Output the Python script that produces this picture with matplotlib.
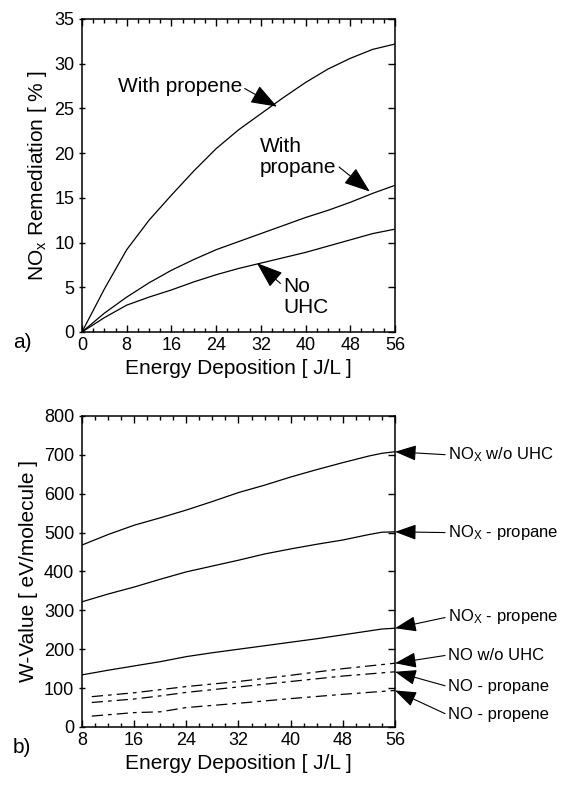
import numpy as np
import matplotlib
matplotlib.use('Agg')
import matplotlib.pyplot as plt
from matplotlib.ticker import MultipleLocator

plt.rcParams['font.family'] = ['Liberation Sans', 'DejaVu Sans']
plt.rcParams['mathtext.fontset'] = 'custom'
plt.rcParams['mathtext.rm'] = 'Liberation Sans'
plt.rcParams['mathtext.it'] = 'Liberation Sans'

# panel a) NOx remediation vs energy deposition
energy_a = [0, 4, 8, 12, 16, 20, 24, 28, 32, 36, 40, 44, 48, 52, 56]
rem_propene = [0, 4.8, 9.2, 12.5, 15.3, 18.0, 20.5, 22.6, 24.4, 26.2, 27.9, 29.4, 30.6, 31.6, 32.2]
rem_propane = [0, 2.1, 3.9, 5.5, 6.9, 8.1, 9.2, 10.1, 11.0, 11.9, 12.8, 13.6, 14.5, 15.5, 16.4]
rem_nouhc = [0, 1.6, 3.0, 3.9, 4.7, 5.6, 6.4, 7.1, 7.7, 8.3, 8.9, 9.6, 10.3, 11.0, 11.5]

# panel b) W-values
energy_b = [8, 12, 16, 20, 24, 28, 32, 36, 40, 44, 48, 52, 54, 56]
w_nox_nouhc = [468, 495, 519, 538, 558, 580, 603, 622, 643, 662, 680, 697, 704, 708]
w_nox_propane = [322, 342, 360, 380, 399, 414, 429, 445, 458, 470, 481, 495, 501, 502]
w_nox_propene = [134, 146, 157, 168, 181, 191, 200, 209, 218, 227, 237, 247, 252, 254]

energy_no = [9.5, 16, 20, 24, 32, 40, 48, 56]
w_no_nouhc = [78, 88, 96, 104, 117, 133, 150, 164]
w_no_propane = [63, 72, 80, 89, 103, 117, 131, 142]
w_no_propene = [28, 37, 39, 50, 61, 73, 84, 94]

fig = plt.figure(figsize=(5.65, 7.85), dpi=100)
ax1 = fig.add_axes([0.1451, 0.5771, 0.554, 0.3987])
ax2 = fig.add_axes([0.1451, 0.0739, 0.554, 0.3962])

lw = 0.9
ax1.plot(energy_a, rem_propene, 'k-', lw=lw)
ax1.plot(energy_a, rem_propane, 'k-', lw=lw)
ax1.plot(energy_a, rem_nouhc, 'k-', lw=lw)

ax2.plot(energy_b, w_nox_nouhc, 'k-', lw=lw)
ax2.plot(energy_b, w_nox_propane, 'k-', lw=lw)
ax2.plot(energy_b, w_nox_propene, 'k-', lw=lw)
dd = (9, 4, 3, 4)
ax2.plot(energy_no, w_no_nouhc, 'k-', lw=lw, dashes=dd)
ax2.plot(energy_no, w_no_propane, 'k-', lw=lw, dashes=dd)
ax2.plot(energy_no, w_no_propene, 'k-', lw=lw, dashes=dd)

for ax in (ax1, ax2):
    for s in ax.spines.values():
        s.set_linewidth(1.1)
    ax.tick_params(axis='both', which='both', labelsize=13, color='k')
    ax.tick_params(axis='x', which='major', direction='in', top=True, length=5, width=1)
    ax.tick_params(axis='x', which='minor', direction='in', top=True, length=3, width=1)
    ax.tick_params(axis='y', which='major', direction='inout', left=True, right=False, length=4, width=1)
    ax.xaxis.set_major_locator(MultipleLocator(8))
    ax.xaxis.set_minor_locator(MultipleLocator(2))
    ax.set_xlabel('Energy Deposition [ J/L ]', fontsize=15, labelpad=4)

ax1.set_xlim(0, 56)
ax1.set_ylim(0, 35)
ax1.yaxis.set_major_locator(MultipleLocator(5))
ax1.set_ylabel('NO$_\\mathrm{x}$ Remediation [ % ]', fontsize=15, labelpad=4)

ax2.set_xlim(8, 56)
ax2.set_ylim(0, 800)
ax2.yaxis.set_major_locator(MultipleLocator(100))
ax2.set_ylabel('W-Value [ eV/molecule ]', fontsize=15, labelpad=4)

# right-side inward ticks without labels
for ax, step in ((ax1, 5), (ax2, 100)):
    lo, hi = ax.get_ylim()
    sec = ax.secondary_yaxis('right')
    sec.set_yticks(np.arange(lo, hi + step / 2, step))
    sec.tick_params(direction='in', length=5, width=1, labelright=False)
    sec.spines['right'].set_visible(False)

arrow = dict(arrowstyle='-|>,head_length=1.1,head_width=0.4', color='k', lw=0.8,
             shrinkA=0, shrinkB=0)

ax1.annotate('With propene', xy=(34.9, 25.2), xytext=(17.5, 27.4), fontsize=15,
             ha='center', va='center', arrowprops=dict(arrow, relpos=(1, 0.5)))
ax1.annotate('With\npropane', xy=(51.5, 15.7), xytext=(31.8, 19.6), fontsize=15,
             ha='left', va='center', linespacing=1.15,
             arrowprops=dict(arrow, relpos=(1, 0.3)))
ax1.annotate('No\nUHC', xy=(31.3, 7.7), xytext=(36.0, 3.9), fontsize=15,
             ha='left', va='center', linespacing=1.15,
             arrowprops=dict(arrow, relpos=(0, 0.78)))

right_labels = ['NO$_\\mathrm{X}$ w/o UHC', 'NO$_\\mathrm{X}$ - propane', 'NO$_\\mathrm{X}$ - propene',
                'NO w/o UHC', 'NO - propane', 'NO - propene']
label_y = [700, 500, 283, 185, 104, 31]
tip_y = [w_nox_nouhc[-1], w_nox_propane[-1], w_nox_propene[-1],
         w_no_nouhc[-1], w_no_propane[-1], w_no_propene[-1]]
for lab, ly, ty in zip(right_labels, label_y, tip_y):
    ax2.annotate(lab, xy=(56, ty), xytext=(64.1, ly), fontsize=12,
                 ha='left', va='center', annotation_clip=False,
                 arrowprops=dict(arrow, relpos=(0, 0.5)))

fig.text(0.023, 0.564, 'a)', fontsize=15, va='center')
fig.text(0.023, 0.048, 'b)', fontsize=15, va='center')

fig.savefig('out.png', dpi=100)
